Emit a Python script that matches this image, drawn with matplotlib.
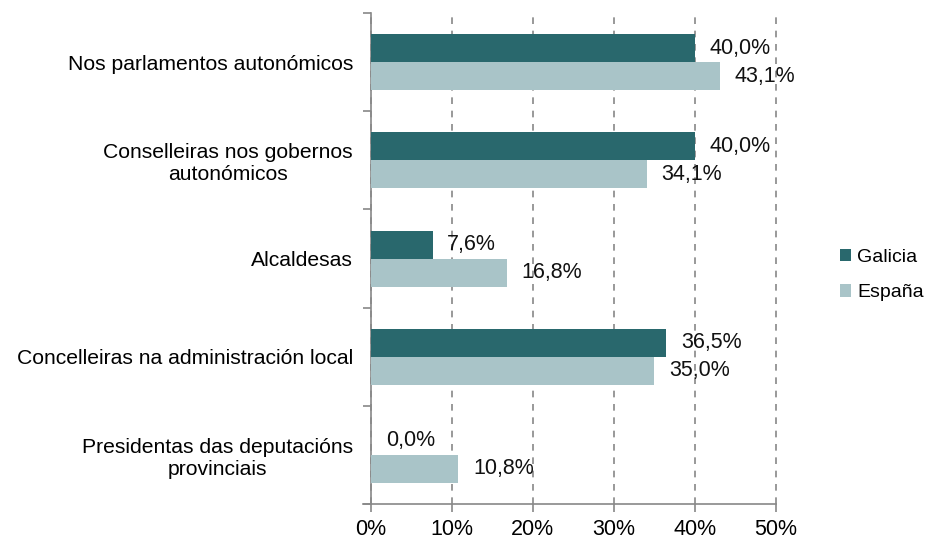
import numpy as np
import matplotlib
matplotlib.use("Agg")
import matplotlib.pyplot as plt

categories = [
  "Nos parlamentos autonómicos",
  "Conselleiras nos gobernos\nautonómicos",
  "Alcaldesas",
  "Concelleiras na administración local",
  "Presidentas das deputacións\nprovinciais",
]
galicia = [40.0, 40.0, 7.6, 36.5, 0.0]
espana = [43.1, 34.1, 16.8, 35.0, 10.8]
xticks = [0, 10, 20, 30, 40, 50]

plt.rcParams["font.family"] = ["Liberation Sans", "DejaVu Sans"]
dark, light = "#29686d", "#a9c4c8"
fs = 15.2

fig = plt.figure(figsize=(9.3, 5.44), dpi=100)
ax = fig.add_axes([0.399, 0.0735, 0.435, 0.9025])

y = np.arange(len(categories))
h = 0.285
b1 = ax.barh(y - h / 2, galicia, height=h, color=dark, label="Galicia", zorder=3)
b2 = ax.barh(y + h / 2, espana, height=h, color=light, label="España", zorder=3)

for bars, vals in ((b1, galicia), (b2, espana)):
  for bar, v in zip(bars, vals):
    ax.annotate(f"{v:.1f}%".replace(".", ","),
                (bar.get_width(), bar.get_y() + bar.get_height() / 2),
                xytext=(10.5, 0), textcoords="offset points",
                va="center", ha="left", fontsize=15.5, color="#111111", zorder=4)

ax.set_xlim(0, 50)
ax.set_ylim(len(categories) - 0.5, -0.5)
ax.set_xticks(xticks)
ax.set_xticklabels([f"{t}%" for t in xticks], fontsize=15.5)
ax.set_yticks(y)
ax.set_yticklabels(categories, fontsize=fs, ha="right", multialignment="center")
ax.set_yticks(np.arange(len(categories) + 1) - 0.5, minor=True)
ax.tick_params(axis="y", which="major", length=0, pad=13)
ax.tick_params(axis="y", which="minor", length=6, color="#888888", width=1.2, direction="out")
ax.tick_params(axis="x", length=6, color="#888888", width=1.2, direction="out", pad=5)

ax.grid(axis="x", ls=(0, (4, 4)), color="#888888", lw=1.2, zorder=0)
for gl in ax.get_xgridlines():
  gl.set_clip_on(False)
for s in ("top", "right"):
  ax.spines[s].set_visible(False)
for s in ("left", "bottom"):
  ax.spines[s].set_color("#888888")
  ax.spines[s].set_linewidth(1.2)
ax.spines["bottom"].set_bounds(-1, 50)

leg = ax.legend(loc="center left", bbox_to_anchor=(1.158, 0.466), frameon=False,
                fontsize=14, handlelength=0.6, handleheight=0.6, handletextpad=0.3,
                labelspacing=0.95, borderpad=0, borderaxespad=0)

fig.savefig("out.png", dpi=100)
